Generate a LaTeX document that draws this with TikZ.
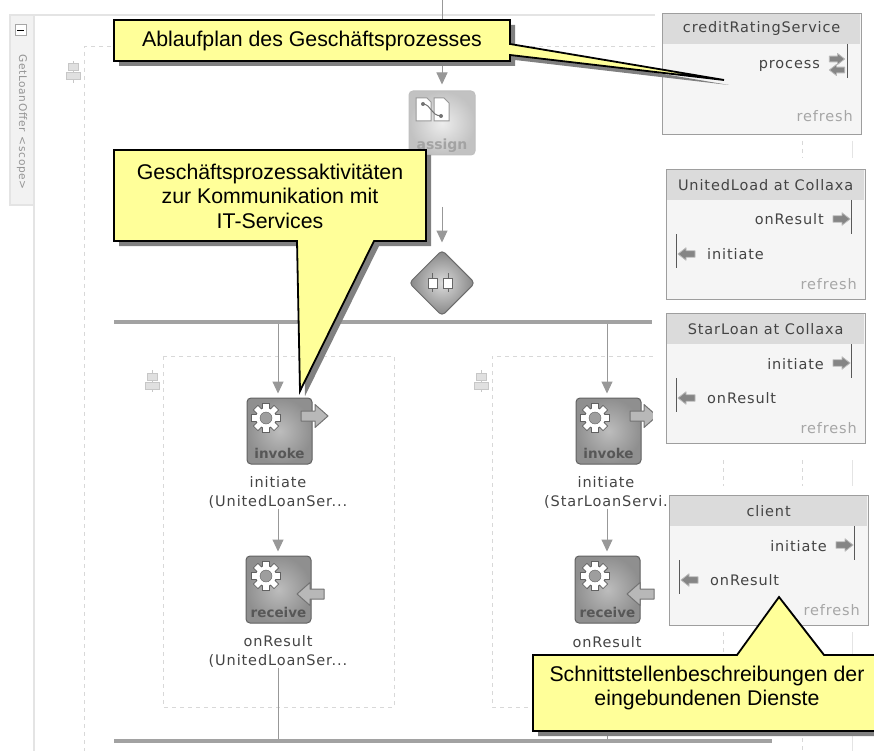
\documentclass[tikz,border=0pt]{standalone}
\usepackage{fontspec}
\usetikzlibrary{arrows.meta,shapes.geometric}
\setmainfont{Liberation Sans}
\newfontfamily\uifont[LetterSpace=6]{DejaVu Sans}
\newfontfamily\uibold{DejaVu Sans Bold}
\definecolor{calloutfill}{HTML}{FFFF99}
\definecolor{framegray}{HTML}{E4E4E4}
\definecolor{dashgray}{HTML}{D8D8D8}
\definecolor{flowgray}{HTML}{989898}
\definecolor{uitext}{HTML}{444444}
\tikzset{
  x=1pt,y=-1pt,
  frameline/.style={draw=framegray,line width=1.6pt},
  dashline/.style={draw=dashgray,line width=1pt,dash pattern=on 4pt off 4pt},
  flow/.style={draw=flowgray,line width=1pt,-{Triangle[width=11pt,length=12pt]}},
  flowplain/.style={draw=flowgray,line width=1pt},
  barline/.style={fill=flowgray!90,draw=none,inner sep=0pt,minimum height=4.5pt},
  activity/.style={draw=#1!70!black,line width=1pt,rounded corners=4pt,minimum size=65pt,inner sep=0pt},
  darkact/.style={activity=gray,inner color=black!26,outer color=black!44,draw=black!62},
  acttext/.style={inner sep=0pt,anchor=base,text=black!66,font=\uibold\fontsize{13.5}{15}\selectfont},
  uilabel/.style={inner sep=0pt,font=\uifont\fontsize{14.5}{17}\selectfont,text=uitext},
  refreshlabel/.style={inner sep=0pt,anchor=base east,font=\uifont\fontsize{14.5}{17}\selectfont,text=black!35},
  panelbox/.style={draw=black!38,line width=1.2pt,fill=black!4,minimum width=199pt,inner sep=0pt,anchor=north west},
  panelhead/.style={fill=black!14,draw=none,minimum width=197.5pt,minimum height=30pt,inner sep=0pt,anchor=north west,font=\uifont\fontsize{14.5}{17}\selectfont,text=uitext},
  portline/.style={draw=black!65,line width=0.9pt},
  callout/.style={draw=black,line width=1.8pt,fill=calloutfill,line join=miter},
  calloutshadow/.style={fill=black!50,draw=none},
  callouttext/.style={inner sep=0pt,align=center,text=black,font=\fontsize{21.3}{24.5}\selectfont},
  fatflow/.pic={\draw[fill=black!28,draw=black!55,line width=1pt,line join=round]
     (0,-5)--(14,-5)--(14,-11.5)--(27,0)--(14,11.5)--(14,5)--(0,5)--cycle;},
  fatport/.pic={\draw[fill=black!48,draw=black!28,line width=0.8pt,line join=round]
     (-8.5,-3.2)--(0.5,-3.2)--(0.5,-6.2)--(8.5,0)--(0.5,6.2)--(0.5,3.2)--(-8.5,3.2)--cycle;},
  gearicon/.pic={
    \foreach \a in {0,45,...,315}{\draw[rotate=\a,fill=white,draw=black!62,line width=1pt] (-3.2,-14.5)--(3.2,-14.5)--(3.2,-8)--(-3.2,-8)--cycle;}
    \fill[white,draw=black!62,line width=1pt] (0,0) circle (10.5);
    \foreach \a in {0,45,...,315}{\fill[rotate=\a,white] (-2.6,-14)--(2.6,-14)--(2.6,-9)--(-2.6,-9)--cycle;}
    \fill[black!38,draw=black!62] (0,0) circle (6);},
  seqicon/.pic={
    \draw[draw=black!22,line width=1pt] (0,-11)--(0,11);
    \draw[fill=black!12,draw=black!22,line width=1pt] (-5,-8)rectangle(5,-1);
    \draw[fill=black!12,draw=black!22,line width=1pt] (-7,1)rectangle(7,8);},
}
\newcommand{\svcpanel}[6]{%
  \begin{scope}[shift={(#2,#3)}]
    \node[panelbox,minimum height=130pt] (#1) at (0,0) {};
    \node[panelhead] (#1head) at (0.7,0.7) {#4};
    \draw[portline] (185,31)--(185,65);
    \path (175.5,50) pic {fatport};
    \node[uilabel,anchor=base east] (#1top) at (158,56) {#5};
    \draw[portline] (10,65)--(10,99);
    \path (20.5,85) pic[xscale=-1] {fatport};
    \node[uilabel,anchor=base west] (#1bot) at (41,90) {#6};
    \node[refreshlabel] (#1ref) at (191,120) {refresh};
  \end{scope}}
\begin{document}
\begin{tikzpicture}
\useasboundingbox (0,0) rectangle (874,751);
\clip (0,0) rectangle (874,751);
\fill[white] (0,0) rectangle (874,751);
% frame
\draw[frameline] (10,15)--(655,15);
\draw[frameline,fill=black!5] (10,15) rectangle (34,205);
\draw[frameline] (34,205)--(34,751);
\node[draw=black!35,fill=white,line width=1pt,minimum size=11pt,inner sep=0pt] (minusbox) at (20.5,30.5) {};
\draw[black,line width=1.3pt] (17,30.5)--(24,30.5);
\node[rotate=-90,inner sep=0pt,text=black!42,font=\uifont\fontsize{10.6}{13}\selectfont] (scopelabel) at (22,122) {GetLoanOffer\enspace{}<scope>};
% dashed scopes
\draw[dashline] (655,47)--(84,47)--(84,751);
\draw[dashline] (163,356) rectangle (394,707);
\draw[dashline] (653,356)--(492,356)--(492,707)--(540,707);
\foreach \xx in {723,802}{\draw[dashline] (\xx,460)--(\xx,486);\draw[dashline] (\xx,632)--(\xx,652);}
\draw[dashline] (802,141)--(802,158);
\draw[dashline] (802,738)--(802,751);
\draw[draw=framegray,line width=1pt] (852,141)--(852,158);
\draw[draw=framegray,line width=1pt] (852,460)--(852,486);
\draw[draw=framegray,line width=1pt] (852,632)--(852,751);
\path (73.5,72) pic {seqicon};
\path (152,381) pic {seqicon};
\path (481,381) pic {seqicon};
% main flow
\coordinate (topin) at (442,0);
\coordinate (assignout) at (442,207);
\node[activity=gray,inner color=black!7,outer color=black!24,draw=black!25,minimum width=66pt,minimum height=64pt] (assign) at (442,123) {};
\node[inner sep=0pt,anchor=base,text=black!36,font=\uibold\fontsize{14}{15}\selectfont] (assigntxt) at (442,150) {assign};
\draw[fill=white,draw=black!40,line width=1pt] (416,98)--(427,98)--(431,102)--(431,121)--(416,121)--cycle;
\draw[fill=white,draw=black!40,line width=1pt] (434,98)--(444,98)--(449,103)--(449,121)--(434,121)--cycle;
\draw[black!55,line width=1pt] (423,104) .. controls (432,105) and (430,115) .. (441,116);
\fill[black!55] (423,104) circle (2) (441,116) circle (2);
\node[diamond,aspect=1,minimum size=66pt,inner sep=0pt,rounded corners=4pt,inner color=black!14,outer color=black!48,draw=black!58,line width=1pt] (gate) at (442,283) {};
\foreach \xx in {432.5,448}{
  \draw[black!60,line width=1pt] (\xx,273)--(\xx,292);
  \draw[fill=white,draw=black!60,line width=1pt] (\xx-4.5,278) rectangle (\xx+4.5,288);}
\draw[flow,shorten >=6pt] (topin)--(assign);
\draw[flow,shorten >=7pt] (assignout)--(gate);
\node[barline,minimum width=538pt,anchor=west] (bartop) at (114,322) {};
\node[barline,minimum width=658pt,anchor=west] (barbot) at (114,741) {};
% branch 1
\coordinate (col1) at (278,0);
\node[darkact,minimum width=65pt,minimum height=66pt] (inv1) at (279.5,431) {};
\node[acttext] (inv1txt) at (279.5,458) {invoke};
\path (266,418) pic {gearicon};
\path (301,416) pic {fatflow};
\node[uilabel,align=center,font=\uifont\fontsize{14.5}{19}\selectfont] (inv1lab) at (278,492.5) {initiate\\(UnitedLoanSer...};
\node[darkact,minimum width=65pt,minimum height=67pt] (rec1) at (278.5,589.5) {};
\node[acttext] (rec1txt) at (278.5,617) {receive};
\path (266,576) pic {gearicon};
\path (324,594) pic[xscale=-1] {fatflow};
\node[uilabel,align=center,font=\uifont\fontsize{14.5}{19}\selectfont] (rec1lab) at (278,651.5) {onResult\\(UnitedLoanSer...};
\draw[flow,shorten >=4pt] (col1 |- bartop.south)--(col1 |- inv1.north);
\draw[flow,shorten >=4pt] (col1 |- inv1lab.south)--(col1 |- rec1.north);
\draw[flowplain] (col1 |- rec1lab.south)--(col1 |- barbot.north);
% branch 2
\coordinate (col2) at (607,0);
\node[darkact,minimum width=65pt,minimum height=66pt] (inv2) at (608.5,431) {};
\node[acttext] (inv2txt) at (608.5,458) {invoke};
\path (595,418) pic {gearicon};
\path (630,416) pic {fatflow};
\node[uilabel,align=center,font=\uifont\fontsize{14.5}{19}\selectfont] (inv2lab) at (606,492.5) {initiate\\(StarLoanServi.};
\node[darkact,minimum width=65pt,minimum height=67pt] (rec2) at (607.5,589.5) {};
\node[acttext] (rec2txt) at (607.5,617) {receive};
\path (595,576) pic {gearicon};
\path (654,594) pic[xscale=-1] {fatflow};
\node[uilabel,anchor=base,align=center] (rec2lab) at (607,647) {onResult};
\draw[flow,shorten >=4pt] (col2 |- bartop.south)--(col2 |- inv2.north);
\draw[flow,shorten >=4pt] (col2 |- inv2lab.south)--(col2 |- rec2.north);
\draw[flowplain] (607,725)--(col2 |- barbot.north);
% cover behind panels
\fill[white] (653,305) rectangle (874,450);
% panels
\begin{scope}[shift={(662,13)}]
  \node[panelbox,minimum height=121pt] (credit) at (0,0) {};
  \node[panelhead] (credithead) at (0.7,0.7) {creditRatingService};
  \draw[portline] (185,31)--(185,65);
  \path (175,46) pic[scale=0.9] {fatport};
  \path (175,57) pic[xscale=-0.9,yscale=0.9] {fatport};
  \node[uilabel,anchor=base east] (creditport) at (158,56) {process};
  \node[refreshlabel] (creditref) at (191,109) {refresh};
\end{scope}
\svcpanel{united}{666}{169}{UnitedLoad at Collaxa}{onResult}{initiate}
\svcpanel{star}{666}{313}{StarLoan at Collaxa}{initiate}{onResult}
\svcpanel{client}{669}{495}{client}{initiate}{onResult}
% callouts
\fill[calloutshadow,shift={(5,5)}] (114,20)--(510,20)--(510,44)--(724,80)--(510,55)--(510,61)--(114,61)--cycle;
\path[callout] (114,20)--(510,20)--(510,44)--(724,80)--(510,55)--(510,61)--(114,61)--cycle;
\node[callouttext] (call1) at (312,41) {Ablaufplan des Gesch\"aftsprozesses};
\fill[calloutshadow,shift={(5,5)}] (114,150)--(426,150)--(426,241)--(374,241)--(300,391)--(297,241)--(114,241)--cycle;
\path[callout] (114,150)--(426,150)--(426,241)--(374,241)--(300,391)--(297,241)--(114,241)--cycle;
\node[callouttext] (call2) at (270,196) {Gesch\"aftsprozessaktivit\"aten\\zur Kommunikation mit\\IT-Services};
\fill[calloutshadow,shift={(5,5)}] (533,655)--(737,655)--(779,597)--(824,655)--(884,655)--(884,731)--(533,731)--cycle;
\path[callout] (533,655)--(737,655)--(779,597)--(824,655)--(884,655)--(884,731)--(533,731)--cycle;
\node[callouttext] (call3) at (707,688) {Schnittstellenbeschreibungen der\\eingebundenen Dienste};
\end{tikzpicture}
\end{document}
